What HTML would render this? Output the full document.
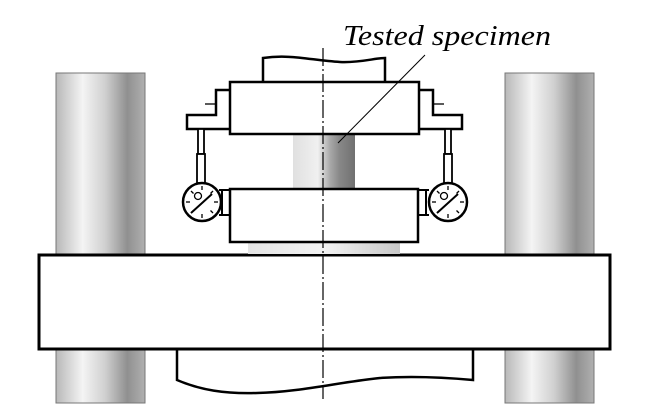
<!DOCTYPE html>
<html><head><style>html,body{margin:0;padding:0;background:#fff}svg{display:block}</style></head>
<body>
<svg width="647" height="415" viewBox="0 0 647 415" xmlns="http://www.w3.org/2000/svg">
<defs>
<linearGradient id="col" x1="0" x2="1" y1="0" y2="0">
<stop offset="0" stop-color="#b8b8b8"/><stop offset="0.3" stop-color="#f4f4f4"/><stop offset="0.55" stop-color="#d0d0d0"/><stop offset="0.8" stop-color="#909090"/><stop offset="1" stop-color="#b0b0b0"/>
</linearGradient>
<linearGradient id="spec" x1="0" x2="1" y1="0" y2="0">
<stop offset="0" stop-color="#e0e0e0"/><stop offset="0.4" stop-color="#f0f0f0"/><stop offset="0.6" stop-color="#a8a8a8"/><stop offset="0.75" stop-color="#888"/><stop offset="1" stop-color="#707070"/>
</linearGradient>
<linearGradient id="ring" x1="0" x2="1" y1="0" y2="0">
<stop offset="0" stop-color="#e4e4e4"/><stop offset="0.5" stop-color="#f2f2f2"/><stop offset="1" stop-color="#c8c8c8"/>
</linearGradient>
<g id="gauge">
<circle cx="0" cy="0" r="19" fill="#fff" stroke="#000" stroke-width="2.5"/>
<g stroke="#000" stroke-width="1.3">
<line x1="0" y1="-16" x2="0" y2="-12"/><line x1="0" y1="16" x2="0" y2="12"/>
<line x1="-16" y1="0" x2="-12" y2="0"/><line x1="16" y1="0" x2="12" y2="0"/>
<line x1="11" y1="-11" x2="8.5" y2="-8.5"/><line x1="-11" y1="11" x2="-8.5" y2="8.5"/>
<line x1="11" y1="11" x2="8.5" y2="8.5"/><line x1="-11" y1="-11" x2="-8.5" y2="-8.5"/>
<line x1="-11" y1="11" x2="10" y2="-8" stroke-width="2"/>
</g>
<circle cx="-4" cy="-6" r="3.5" fill="#fff" stroke="#000" stroke-width="1.3"/>
</g>
</defs>
<rect x="56" y="73" width="89" height="330" fill="url(#col)" stroke="#777" stroke-width="1"/>
<rect x="505" y="73" width="89" height="330" fill="url(#col)" stroke="#777" stroke-width="1"/>
<path d="M177 348 V 380 C 200 390, 225 394, 257 393 C 300 392, 340 382, 380 378 C 410 376, 440 377, 473 380 V 348" fill="#fff" stroke="#000" stroke-width="2.5"/>
<rect x="39" y="255" width="571" height="94" fill="#fff" stroke="#000" stroke-width="3"/>
<rect x="248" y="242" width="152" height="12" fill="url(#ring)"/>
<rect x="293" y="134" width="62" height="55" fill="url(#spec)"/>
<path d="M263 82 V 58 C 290 54, 310 60, 340 62 C 360 63, 375 58, 385 58 V 82" fill="#fff" stroke="#000" stroke-width="2.5"/>
<rect x="230" y="82" width="189" height="52" fill="#fff" stroke="#000" stroke-width="2.5"/>
<rect x="230" y="189" width="188" height="53" fill="#fff" stroke="#000" stroke-width="2.5"/>
<g fill="none" stroke="#000" stroke-width="2.5">
<path d="M230 90 H216 V115 H187 V129 H230"/>
<path d="M419 90 H433 V115 H462 V129 H419"/>
</g>
<g stroke="#000" stroke-width="1.3">
<line x1="205" y1="104" x2="216" y2="104"/><line x1="433" y1="104" x2="444" y2="104"/>
</g>
<g fill="#fff" stroke="#000" stroke-width="1.8">
<rect x="198" y="129" width="6" height="25"/><rect x="197" y="154" width="8" height="29"/>
<rect x="445" y="129" width="6" height="25"/><rect x="444" y="154" width="8" height="29"/>
</g>
<g fill="none" stroke="#000" stroke-width="2">
<path d="M219 190 H230 M219 215 H230 M222 190 V215"/>
<path d="M429 190 H418 M429 215 H418 M426 190 V215"/>
</g>
<use href="#gauge" x="202" y="202"/>
<use href="#gauge" x="448" y="202"/>
<line x1="323" y1="48" x2="323" y2="399" stroke="#000" stroke-width="1.2" stroke-dasharray="18,3,2,3"/>
<line x1="338" y1="143" x2="425" y2="55" stroke="#000" stroke-width="1"/>
<text x="343" y="45" font-family="Liberation Serif, serif" font-style="italic" font-size="28" textLength="208" lengthAdjust="spacingAndGlyphs" fill="#000">Tested specimen</text>
</svg>
</body></html>
